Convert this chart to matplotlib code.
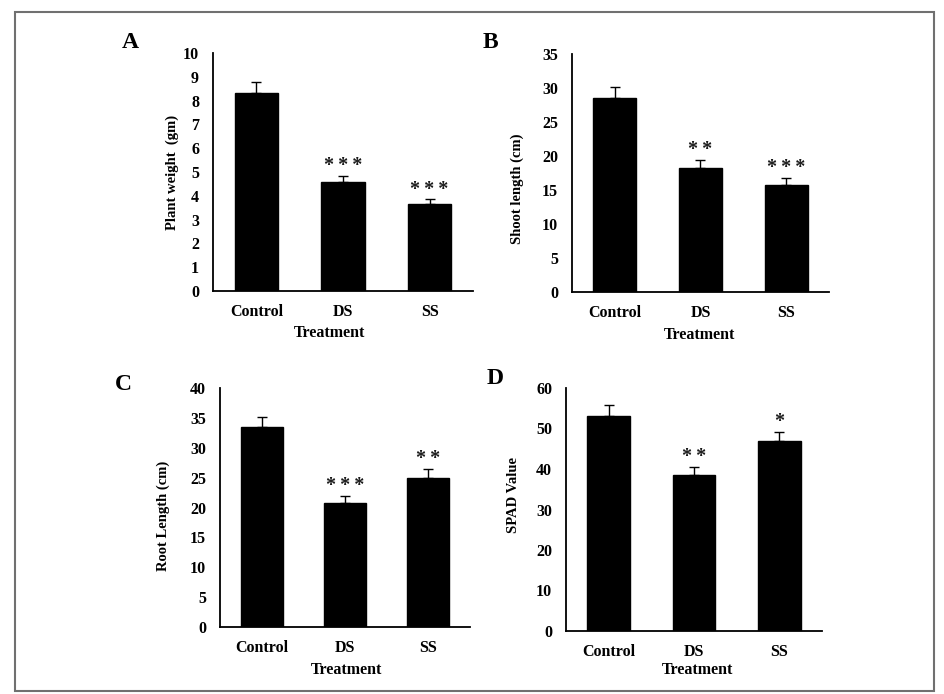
import matplotlib
matplotlib.use("Agg")
import matplotlib.pyplot as plt
from matplotlib.patches import Rectangle
import numpy as np

plt.rcParams['font.family'] = ['Liberation Serif', 'DejaVu Serif']
plt.rcParams['font.weight'] = 'bold'

categories = ["Control", "DS", "SS"]

weight_mean = [8.33, 4.59, 3.66]
weight_err = [0.45, 0.24, 0.19]
weight_sig = ["", "***", "***"]

shoot_mean = [28.6, 18.3, 15.8]
shoot_err = [1.5, 1.1, 1.0]
shoot_sig = ["", "**", "***"]

root_mean = [33.4, 20.7, 25.0]
root_err = [1.8, 1.2, 1.4]
root_sig = ["", "***", "**"]

spad_mean = [53.1, 38.6, 46.9]
spad_err = [2.6, 1.9, 2.2]
spad_sig = ["", "**", "*"]

W, H = 945, 694
fig = plt.figure(figsize=(W / 100, H / 100), dpi=100)
fig.patch.set_facecolor("white")

def px_axes(x0, x1, y0, y1):
    return fig.add_axes([x0 / W, 1 - y1 / H, (x1 - x0) / W, (y1 - y0) / H])

panels = [
    dict(box=(213, 473, 53, 291), mean=weight_mean, err=weight_err, sig=weight_sig,
         ylabel="Plant weight  (gm)", ymax=10, step=1, letter="A", lxy=(130, 42),
         xlab=(0.45, -0.176), ylab=(-0.158, 0.5)),
    dict(box=(572, 829, 54, 292), mean=shoot_mean, err=shoot_err, sig=shoot_sig,
         ylabel="Shoot length (cm)", ymax=35, step=5, letter="B", lxy=(490, 43),
         xlab=(0.498, -0.181), ylab=(-0.214, 0.435)),
    dict(box=(220, 470, 388, 627), mean=root_mean, err=root_err, sig=root_sig,
         ylabel="Root Length (cm)", ymax=40, step=5, letter="C", lxy=(123, 385),
         xlab=(0.508, -0.18), ylab=(-0.228, 0.464)),
    dict(box=(566, 822, 388, 631), mean=spad_mean, err=spad_err, sig=spad_sig,
         ylabel="SPAD Value", ymax=60, step=10, letter="D", lxy=(495, 378),
         xlab=(0.512, -0.16), ylab=(-0.207, 0.56)),
]

for p in panels:
    ax = px_axes(*p["box"])
    x = np.arange(len(categories))
    m = np.array(p["mean"])
    e = np.array(p["err"])
    ax.bar(x, m, width=0.5, color="black", edgecolor="black", zorder=2)
    ax.errorbar(x, m, yerr=[np.zeros_like(e), e], fmt="none", ecolor="black",
                elinewidth=1.0, capsize=3.5, capthick=1.0, zorder=3)
    for xi, top, s in zip(x, m + e, p["sig"]):
        if s:
            ax.annotate("\u2009".join(s), (xi, top), xytext=(0, 3.5),
                        textcoords="offset points", ha="center", va="baseline",
                        fontsize=14.5, fontweight="bold", color="#1a1a1a")
    ax.set_xlim(-0.5, 2.5)
    ax.set_ylim(0, p["ymax"])
    ax.set_yticks(np.arange(0, p["ymax"] + p["step"] / 2, p["step"]))
    ax.set_xticks(x)
    ax.set_xticklabels(categories)
    for s in ["top", "right"]:
        ax.spines[s].set_visible(False)
    for s in ["left", "bottom"]:
        ax.spines[s].set_linewidth(1.3)
        ax.spines[s].set_color("black")
    ax.tick_params(axis="y", length=0, pad=10, labelsize=11.5)
    ax.tick_params(axis="x", length=0, pad=9.5, labelsize=11.5)
    for lab in ax.get_xticklabels() + ax.get_yticklabels():
        lab.set_fontweight("bold")
    ax.set_ylabel(p["ylabel"], fontsize=10.5, fontweight="bold")
    ax.yaxis.set_label_coords(*p["ylab"])
    ax.yaxis.label.set_verticalalignment("center")
    ax.set_xlabel("Treatment", fontsize=11.5, fontweight="bold")
    ax.xaxis.set_label_coords(*p["xlab"])
    ax.xaxis.label.set_verticalalignment("center")
    lx, ly = p["lxy"]
    fig.text(lx / W, 1 - ly / H, p["letter"], fontsize=17, fontweight="bold",
             ha="center", va="center")

fig.patches.append(Rectangle((15.5 / W, 1 - 690.5 / H), (934 - 15.5) / W,
                             (690.5 - 11.5) / H, transform=fig.transFigure,
                             fill=False, edgecolor="#707070", linewidth=1.5))

fig.savefig("out.png", dpi=100)
